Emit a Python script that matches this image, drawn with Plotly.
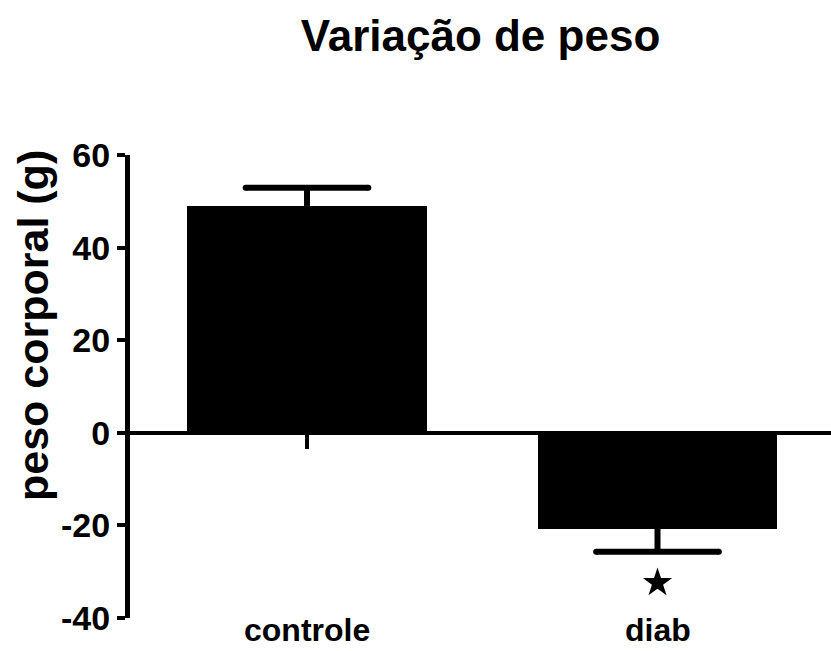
import numpy as np
import plotly.graph_objects as go

# ---- data ----
categories = ["controle", "diab"]
means = [49.0, -20.7]
sem = [3.9, 5.0]
significance = ["", "*"]
y_ticks = [-40, -20, 0, 20, 40, 60]
y_tick_labels = ["-40", "-20", "0", "20", "40", "60"]
title_text = "Variação de peso"
y_title = "peso corporal (g)"

# ---- styles ----
FONT = "Liberation Sans, Arial, sans-serif"
BAR_W = 0.684
CAP_HALF = 0.175
STAR_GAP = 6.7

xpos = np.arange(len(categories))
m = np.array(means)
e = np.array(sem)
sign = np.sign(m)
ends = m + sign * e

fig = go.Figure()
fig.add_trace(go.Bar(
    x=xpos, y=m, width=BAR_W,
    marker=dict(color="black", line=dict(width=0)),
    showlegend=False, hoverinfo="skip",
))

# error bars (one-sided, away from zero) built from data
ex, ey = [], []
for xi, mi, yi in zip(xpos, m, ends):
    ex += [xi, xi, None, xi - CAP_HALF, xi + CAP_HALF, None]
    ey += [mi, yi, None, yi, yi, None]
fig.add_trace(go.Scatter(
    x=ex, y=ey, mode="lines",
    line=dict(color="black", width=6),
    showlegend=False, hoverinfo="skip",
))
# rounded cap ends
cx, cy = [], []
for xi, yi in zip(xpos, ends):
    cx += [xi - CAP_HALF, xi + CAP_HALF]
    cy += [yi, yi]
fig.add_trace(go.Scatter(
    x=cx, y=cy, mode="markers",
    marker=dict(color="black", size=6, symbol="circle"),
    showlegend=False, hoverinfo="skip",
))

# significance stars
sx = [xi for xi, s in zip(xpos, significance) if s]
sy = [yi + sg * STAR_GAP for yi, sg, s in zip(ends, sign, significance) if s]
fig.add_trace(go.Scatter(
    x=sx, y=sy, mode="markers",
    marker=dict(color="black", size=22, symbol="star", line=dict(width=0)),
    showlegend=False, hoverinfo="skip",
))

xr = [-0.505, 1.495]
fig.update_layout(
    width=831, height=651,
    margin=dict(l=130, r=0, t=155, b=33, autoexpand=False),
    paper_bgcolor="white", plot_bgcolor="white",
    font=dict(family=FONT, color="black"),
    title=dict(text=title_text, x=0.5, xref="paper", xanchor="center",
               y=1 - 36 / 651, yref="container", yanchor="middle",
               font=dict(family=FONT, size=44, weight="bold", color="black")),
    xaxis=dict(
        tickmode="array", tickvals=list(xpos), showticklabels=False,
        range=xr, showline=False, showgrid=False, zeroline=False,
        ticks="", automargin=False,
    ),
    xaxis2=dict(
        overlaying="x", anchor="free", position=0.4, side="bottom",
        tickmode="array", tickvals=list(xpos), showticklabels=False,
        range=xr, showline=False, showgrid=False, zeroline=False,
        ticks="outside", ticklen=15, tickwidth=4, tickcolor="black",
    ),
    yaxis=dict(
        range=[-40, 60], tickmode="array", tickvals=y_ticks, ticktext=y_tick_labels,
        showline=True, linewidth=5, linecolor="black",
        ticks="outside", ticklen=8, tickwidth=4, tickcolor="black",
        showgrid=False, zeroline=True, zerolinewidth=4, zerolinecolor="black",
        tickfont=dict(family=FONT, size=34, weight="bold", color="black"),
        automargin=False,
    ),
    bargap=0,
)
# dummy trace to activate xaxis2
fig.add_trace(go.Scatter(x=[xpos[0]], y=[0], xaxis="x2", mode="markers",
                         marker=dict(opacity=0), showlegend=False, hoverinfo="skip"))

# category labels
for xi, lab in zip(xpos, categories):
    fig.add_annotation(
        text=lab, x=xi, xref="x", yref="paper", y=(618 - 630) / 463,
        xanchor="center", yanchor="middle", showarrow=False,
        font=dict(family=FONT, size=32, weight="bold", color="black"),
    )

fig.add_annotation(
    text=y_title, textangle=-90, xref="paper", yref="paper",
    x=(33 - 130) / 701, y=(618 - 326) / 463, xanchor="center", yanchor="middle",
    showarrow=False, font=dict(family=FONT, size=43, weight="bold", color="black"),
)

fig.write_html("out.html")
